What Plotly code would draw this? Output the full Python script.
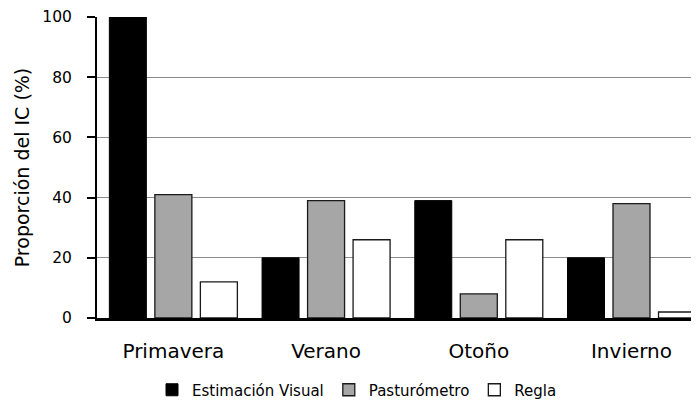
import plotly.graph_objects as go

categories = ["Primavera", "Verano", "Otoño", "Invierno"]
estimacion_visual = [100, 20, 39, 20]
pasturometro = [41, 39, 8, 38]
regla = [12, 26, 26, 2]
y_ticks = [0, 20, 40, 60, 80, 100]

FONT = "'DejaVu Sans', sans-serif"

# The page body has an 8px margin, so the figure is drawn 8px right and down.
OFF = 8

fig = go.Figure()
fig.add_trace(go.Bar(x=categories, y=estimacion_visual, name="Estimación Visual",
                     marker=dict(color="#000000", line=dict(color="#000000", width=1))))
fig.add_trace(go.Bar(x=categories, y=pasturometro, name="Pasturómetro",
                     marker=dict(color="#a6a6a6", line=dict(color="#1a1a1a", width=1.3))))
fig.add_trace(go.Bar(x=categories, y=regla, name="Regla",
                     marker=dict(color="#ffffff", line=dict(color="#1a1a1a", width=1.3))))

fig.update_layout(
    width=699, height=400,
    margin=dict(l=97 - OFF, r=OFF, t=17 - OFF, b=82 + OFF, autoexpand=False),
    paper_bgcolor="white", plot_bgcolor="white",
    barmode="group", bargap=0.106, bargroupgap=0.187,
    font=dict(family=FONT, color="#000000"),
    showlegend=True,
    legend=dict(orientation="h", xref="container", yref="container",
                x=(152 - OFF) / 699, xanchor="left", y=1 - (390 - OFF) / 400, yanchor="middle",
                font=dict(size=15, family=FONT), itemwidth=30, traceorder="normal",
                bgcolor="rgba(0,0,0,0)"),
    xaxis=dict(type="category", range=[-0.5, 3.442], showline=True, linecolor="#000000",
               linewidth=2.5, ticks="", ticklabelstandoff=13,
               tickfont=dict(size=20, family=FONT), showgrid=False, automargin=False),
    yaxis=dict(range=[0, 100], tickvals=y_ticks, showline=True, linecolor="#000000", linewidth=2,
               ticks="outside", ticklen=8, tickwidth=2, tickcolor="#000000",
               ticklabelstandoff=12,
               tickfont=dict(size=15.5, family=FONT), showgrid=True, gridcolor="#8c8c8c",
               gridwidth=1.3, zeroline=False, automargin=False,
               title=dict(text="Proporción del IC (%)", font=dict(size=19, family=FONT), standoff=8)),
)

fig.write_html("out.html")
